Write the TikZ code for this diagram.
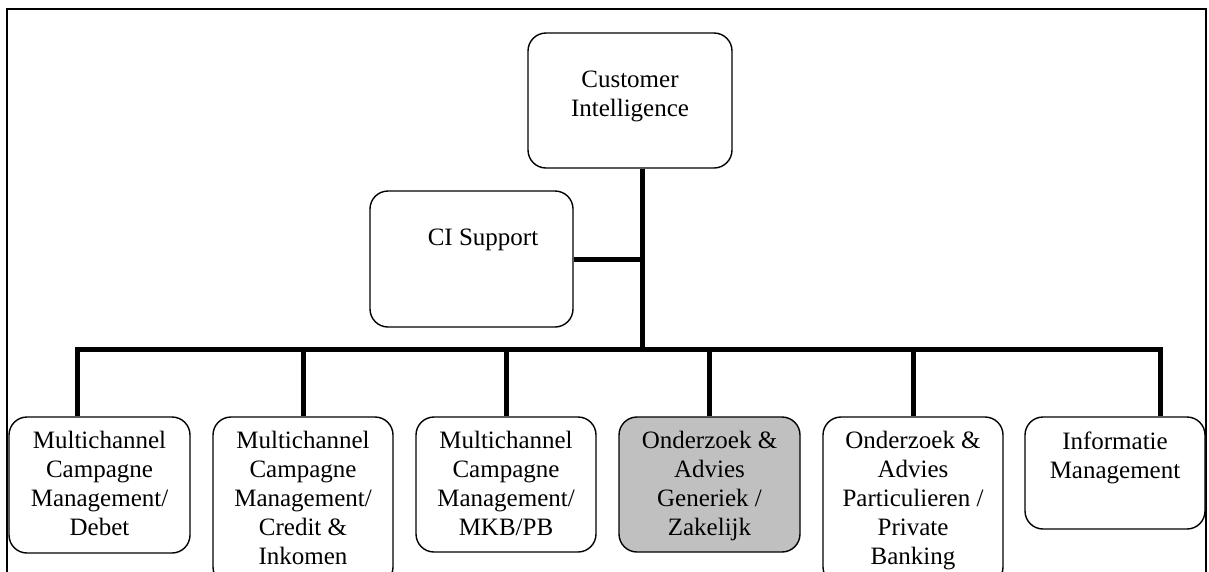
\documentclass[tikz,border=0pt]{standalone}
\usepackage{fontspec}
\setmainfont{Liberation Serif}
\definecolor{boxgray}{RGB}{192,192,192}
\begin{document}
\begin{tikzpicture}[x=1pt,y=-1pt,
  unit/.style={draw=black, line width=1.4pt, rounded corners=18pt, fill=white,
    inner sep=0pt, minimum width=#1},
  lbl/.style={anchor=north, inner sep=0pt, align=center,
    font=\fontsize{25}{29}\selectfont},
  conn/.style={line width=5pt, line join=miter},
  frame/.style={line width=2pt}]
\useasboundingbox (0,0) rectangle (1209,571);
\clip (0,0) rectangle (1209,571);
\fill[white] (0,0) rectangle (1209,571);

% outer frame (open at the bottom edge of the page)
\draw[frame] (7,600) -- (7,9) -- (1206,9) -- (1206,600);

% junction points of the connector tree
\coordinate (j)  at (642,349);
\coordinate (d1) at (77,349);
\coordinate (d6) at (1160,349);

% top level
\node[unit=204pt, minimum height=135pt] (ci) at (630,100.5) {};
\node[lbl] (tci) at (630,71.2) {Customer\\Intelligence};

\node[unit=203pt, minimum height=136pt] (cis) at (471.5,259) {};
\node[lbl] (tcis) at (483,228.3) {CI Support};

% departments
\node[unit=181pt, minimum height=136pt] (b1) at (99.5,485) {};
\node[unit=180pt, minimum height=168pt] (b2) at (303,501) {};
\node[unit=180pt, minimum height=135pt] (b3) at (506,484.5) {};
\node[unit=181pt, minimum height=135pt, fill=boxgray] (b4) at (709.5,484.5) {};
\node[unit=180pt, minimum height=168pt] (b5) at (913,501) {};
\node[unit=180pt, minimum height=112pt] (b6) at (1115,473) {};

\node[lbl] (t1) at (99.5,431.2) {Multichannel\\Campagne\\Management/\\Debet};
\node[lbl] (t2) at (303,431.2) {Multichannel\\Campagne\\Management/\\Credit \&\\Inkomen};
\node[lbl] (t3) at (506,431.2) {Multichannel\\Campagne\\Management/\\MKB/PB};
\node[lbl] (t4) at (709.5,431.2) {Onderzoek \&\\Advies\\Generiek /\\Zakelijk};
\node[lbl] (t5) at (913,431.2) {Onderzoek \&\\Advies\\Particulieren /\\Private\\Banking};
\node[lbl] (t6) at (1115,431.2) {Informatie\\Management};

% connectors
\draw[conn] (ci.south -| j) -- (j);
\draw[conn] (cis.east) -- (cis.east -| j);
\draw[conn] (b1.north -| d1) -- (d1) -- (d6) -- (b6.north -| d6);
\draw[conn] (b2.north |- j) -- (b2.north);
\draw[conn] (b3.north |- j) -- (b3.north);
\draw[conn] (b4.north |- j) -- (b4.north);
\draw[conn] (b5.north |- j) -- (b5.north);
\end{tikzpicture}
\end{document}
